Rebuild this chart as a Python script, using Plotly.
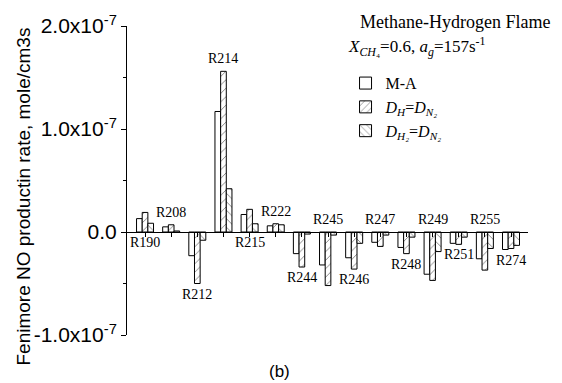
import plotly.graph_objects as go

categories = ["R190", "R208", "R212", "R214", "R215", "R222", "R244", "R245",
              "R246", "R247", "R248", "R249", "R251", "R255", "R274"]
# values in units of 1e-7 mole/cm3s
ma_vals = [0.13, 0.05, -0.23, 1.17, 0.17, 0.06, -0.21, -0.32, -0.25, -0.10, -0.15, -0.41, -0.11, -0.26, -0.17]
dh_vals = [0.19, 0.07, -0.50, 1.56, 0.22, 0.08, -0.34, -0.52, -0.36, -0.14, -0.21, -0.47, -0.12, -0.37, -0.16]
dh2_vals = [0.085, 0.01, -0.08, 0.42, 0.08, 0.07, -0.02, -0.03, -0.11, -0.03, -0.05, -0.19, -0.05, -0.16, -0.13]
label_side = ["down", "up", "down", "up", "down", "up", "down", "up",
              "down", "up", "down", "up", "down", "up", "down"]
scale = 1e-7
y_ticks = [-1e-7, 0, 1e-7, 2e-7]
y_ticktext = ["-1.0x10<sup>-7</sup>", "0.0", "1.0x10<sup>-7</sup>", "2.0x10<sup>-7</sup>"]
series_names = ["M-A",
                "<i>D<sub>H</sub></i>=<i>D<sub>N₂</sub></i>",
                "<i>D<sub>H₂</sub></i>=<i>D<sub>N₂</sub></i>"]

ymin, ymax = -1e-7, 2e-7
x = list(range(len(categories)))

serif = "Liberation Serif"
sans = "Liberation Sans"

fig = go.Figure()
patterns = ["", "/", "\\"]
for name, vals, pat in zip(series_names, [ma_vals, dh_vals, dh2_vals], patterns):
    fig.add_trace(go.Bar(
        x=x, y=[v * scale for v in vals], name=name,
        marker=dict(color="white", line=dict(color="black", width=1),
                    pattern=dict(shape=pat, fgcolor="black", bgcolor="white",
                                 size=6, solidity=0.15)),
    ))

annotations = []
for i, cat in enumerate(categories):
    group = [ma_vals[i], dh_vals[i], dh2_vals[i]]
    if label_side[i] == "up":
        yv = max(0, max(group)) * scale
        annotations.append(dict(x=i, y=yv, xref="x", yref="y", text=cat, showarrow=False,
                                yanchor="bottom", yshift=3,
                                font=dict(family=serif, size=14, color="black")))
    else:
        yv = min(0, min(group)) * scale
        annotations.append(dict(x=i, y=yv, xref="x", yref="y", text=cat, showarrow=False,
                                yanchor="top", yshift=-1,
                                font=dict(family=serif, size=14, color="black")))

annotations.append(dict(x=0.576, y=1.013, xref="paper", yref="paper", xanchor="left",
                        yanchor="middle", showarrow=False, text="Methane-Hydrogen Flame",
                        font=dict(family=serif, size=18, color="black")))
annotations.append(dict(x=0.545, y=0.935, xref="paper", yref="paper", xanchor="left",
                        yanchor="middle", showarrow=False,
                        text="<i>X</i><sub><i>CH</i>₄</sub>=0.6, <i>a</i><sub><i>g</i></sub>=157s<sup>-1</sup>",
                        font=dict(family=serif, size=17, color="black")))
annotations.append(dict(x=0.38, y=-0.117, xref="paper", yref="paper", xanchor="center",
                        yanchor="middle", showarrow=False, text="(b)",
                        font=dict(family=sans, size=17, color="black")))
annotations.append(dict(x=-0.257, y=0.448, xref="paper", yref="paper", xanchor="center",
                        yanchor="middle", showarrow=False, textangle=-90,
                        text="Fenimore NO productin rate, mole/cm3s",
                        font=dict(family=sans, size=19, color="black")))

fig.update_layout(
    width=562, height=383,
    margin=dict(l=127, r=34, t=18, b=48),
    paper_bgcolor="white", plot_bgcolor="white",
    barmode="group", bargap=0.35, bargroupgap=0,
    showlegend=True,
    legend=dict(x=0.545, y=0.87, xanchor="left", yanchor="top",
                font=dict(family=serif, size=16, color="black"),
                bgcolor="rgba(0,0,0,0)", traceorder="normal"),
    annotations=annotations,
    xaxis=dict(range=[-0.69, 14.65], tickvals=x, showticklabels=False,
               ticks="outside", ticklen=4, tickcolor="black",
               showline=True, linecolor="black", linewidth=1,
               showgrid=False, zeroline=False,
               anchor="free", position=(0 - ymin) / (ymax - ymin)),
    yaxis=dict(range=[ymin, ymax], tickvals=y_ticks, ticktext=y_ticktext,
               ticks="outside", ticklen=5, tickcolor="black",
               ticklabeloverflow="allow",
               minor=dict(ticks="outside", ticklen=3, dtick=0.5e-7, tickcolor="black", showgrid=False),
               showline=True, linecolor="black", linewidth=1,
               showgrid=False, zeroline=False,
               tickfont=dict(family=sans, size=21, color="black")),
)

fig.write_html("out.html", config={"displayModeBar": False},
               post_script="document.body.style.margin='0';")
